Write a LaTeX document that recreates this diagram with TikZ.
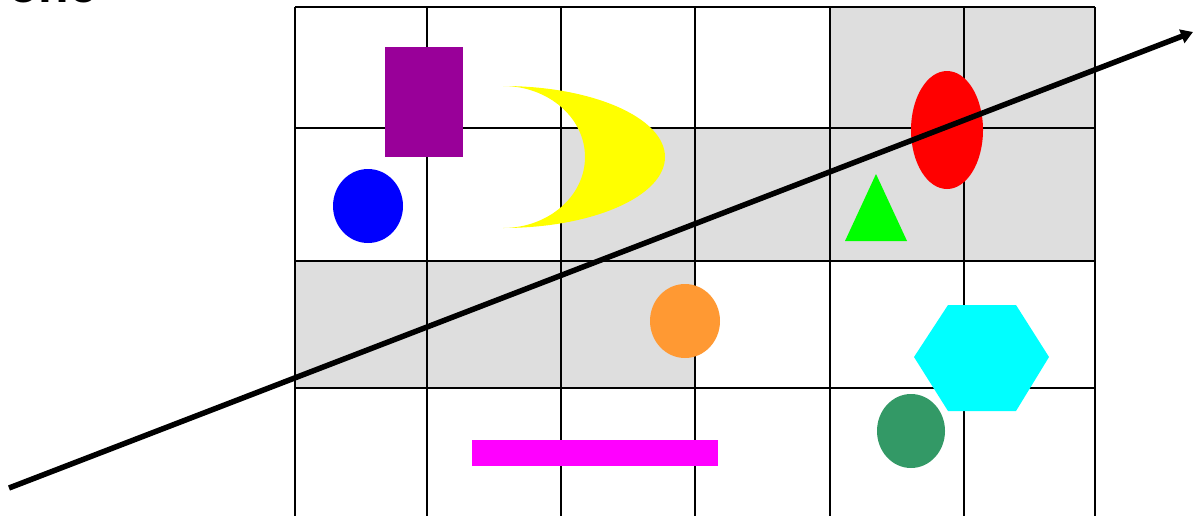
\documentclass[tikz,border=0pt]{standalone}
\usepackage{fontspec}
\setsansfont{Liberation Sans}
\usetikzlibrary{arrows.meta}
\definecolor{cellgray}{HTML}{DEDEDE}
\definecolor{mypurple}{HTML}{990099}
\definecolor{myorange}{HTML}{FF9933}
\definecolor{mygreen}{HTML}{339966}
\definecolor{myblue}{HTML}{0000FF}
\definecolor{myred}{HTML}{FF0000}
\definecolor{mylime}{HTML}{00FF00}
\definecolor{myyellow}{HTML}{FFFF00}
\definecolor{mycyan}{HTML}{00FFFF}
\definecolor{mymagenta}{HTML}{FF00FF}
\tikzset{
  gridline/.style={draw=black, line width=1.3pt},
  cellfill/.style={fill=cellgray, draw=none},
  bigarrow/.style={draw=black, line width=5.5pt, -{Triangle[length=12pt,width=14pt]}},
  cuttext/.style={font=\sffamily\bfseries\fontsize{50}{60}\selectfont, anchor=base west, inner sep=0pt}
}
\begin{document}
\begin{tikzpicture}[x=1pt,y=-1pt]
\useasboundingbox (0,0) rectangle (1193,515);
\clip (0,0) rectangle (1193,515);
\fill[white] (0,0) rectangle (1193,515);
% grey cells
\path[cellfill] (830,7) rectangle (1095,128);
\path[cellfill] (561,128) rectangle (1095,261);
\path[cellfill] (295,261) rectangle (695,388);
% grid
\foreach \x in {295,427,561,695,830,964,1095} \draw[gridline] (\x,7) -- (\x,520);
\foreach \y in {7,128,261,388} \draw[gridline] (295,\y) -- (1095,\y);
% shapes
\fill[mypurple] (385,47) rectangle (463,157);
\fill[myblue] (368,206) ellipse[x radius=35, y radius=37];
\fill[myyellow] (503,86) arc[start angle=-90, end angle=90, x radius=162, y radius=71]
   arc[start angle=90, end angle=-90, x radius=82, y radius=71] -- cycle;
\fill[myred] (947,130) ellipse[x radius=36, y radius=59];
\fill[mylime] (876,174) -- (907,241) -- (845,241) -- cycle;
\fill[myorange] (685,321) ellipse[x radius=35, y radius=37];
\fill[mycyan] (914,357) -- (948,305) -- (1016,305) -- (1049,357) -- (1016,411) -- (948,411) -- cycle;
\fill[mygreen] (911,431) ellipse[x radius=34, y radius=37];
\fill[mymagenta] (472,440) rectangle (718,466);
% text cut at the top
\node[cuttext] (title) at (8,2) {one};
% arrow
\coordinate (a0) at (9,488);
\coordinate (a1) at (1193,32);
\draw[bigarrow] (a0) -- (a1);
\end{tikzpicture}
\end{document}
